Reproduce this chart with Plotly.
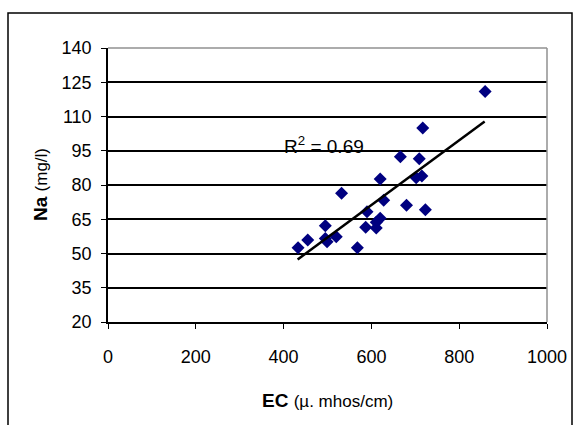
import plotly.graph_objects as go

# Data
ec = [859, 717, 666, 709, 620, 702, 715, 532, 628, 680, 723, 590, 495, 620, 611,
      587, 611, 455, 495, 499, 520, 433, 568]
na = [120.9, 105.0, 92.4, 91.5, 82.6, 83.2, 83.9, 76.4, 73.3, 71.1, 69.2, 68.3, 62.2,
      65.4, 63.7, 61.5, 61.2, 55.9, 56.6, 55.2, 57.3, 52.5, 52.5]
trend_x = [432, 858]
trend_y = [47.4, 107.8]
x_ticks = [0, 200, 400, 600, 800, 1000]
y_ticks = [20, 35, 50, 65, 80, 95, 110, 125, 140]
r2_label = "R<sup>2</sup> = 0.69"

FONT = "Arial, Liberation Sans, sans-serif"

fig = go.Figure()
fig.add_trace(go.Scatter(
    x=ec, y=na, mode="markers",
    marker=dict(symbol="diamond", size=10, color="#000080", line=dict(width=0)),
    showlegend=False, hoverinfo="skip"))
fig.add_trace(go.Scatter(
    x=trend_x, y=trend_y, mode="lines",
    line=dict(color="black", width=2.5),
    showlegend=False, hoverinfo="skip"))

fig.update_layout(
    width=579, height=425,
    margin=dict(l=108, r=32, t=48, b=103),
    paper_bgcolor="white", plot_bgcolor="white",
    font=dict(family=FONT, size=18, color="black"),
    xaxis=dict(range=[0, 1000], tickvals=x_ticks, ticks="outside", ticklen=5,
               tickcolor="black", showgrid=False, zeroline=False,
               showline=True, linecolor="black", linewidth=1.5,
               ticklabelstandoff=13, tickfont=dict(size=18)),
    yaxis=dict(range=[20, 140], tickvals=y_ticks, ticks="outside", ticklen=5,
               tickcolor="black", showgrid=True, gridcolor="black", gridwidth=1.5,
               zeroline=False, showline=True, linecolor="black", linewidth=1.5,
               ticklabelstandoff=6, tickfont=dict(size=18)),
    shapes=[
        # plot area top and right border (grey)
        dict(type="line", xref="paper", yref="paper", x0=0, x1=1, y0=1, y1=1,
             line=dict(color="#909090", width=1.5), layer="above"),
        dict(type="line", xref="paper", yref="paper", x0=1, x1=1, y0=0, y1=1,
             line=dict(color="#909090", width=1.5), layer="above"),
        # outer chart frame
        dict(type="rect", xref="paper", yref="paper",
             x0=-100/439, x1=464/439, y0=-0.45, y1=309/274,
             line=dict(color="black", width=1.5), layer="below"),
    ],
    annotations=[
        dict(text=r2_label, x=493, y=97.5, xref="x", yref="y",
             showarrow=False, font=dict(size=19), xanchor="center", yanchor="middle"),
        dict(text="<b>EC</b> <span style='font-size:17px'>(µ. mhos/cm)</span>",
             x=0.5, y=-78/274, xref="paper", yref="paper", showarrow=False,
             xanchor="center", yanchor="middle", font=dict(size=19)),
        dict(text="<b>Na</b> <span style='font-size:17px'>(mg/l)</span>",
             x=-68/439, y=0.5, xref="paper", yref="paper", showarrow=False,
             textangle=-90, xanchor="center", yanchor="middle", font=dict(size=19)),
    ],
)

fig.write_html("out.html")
